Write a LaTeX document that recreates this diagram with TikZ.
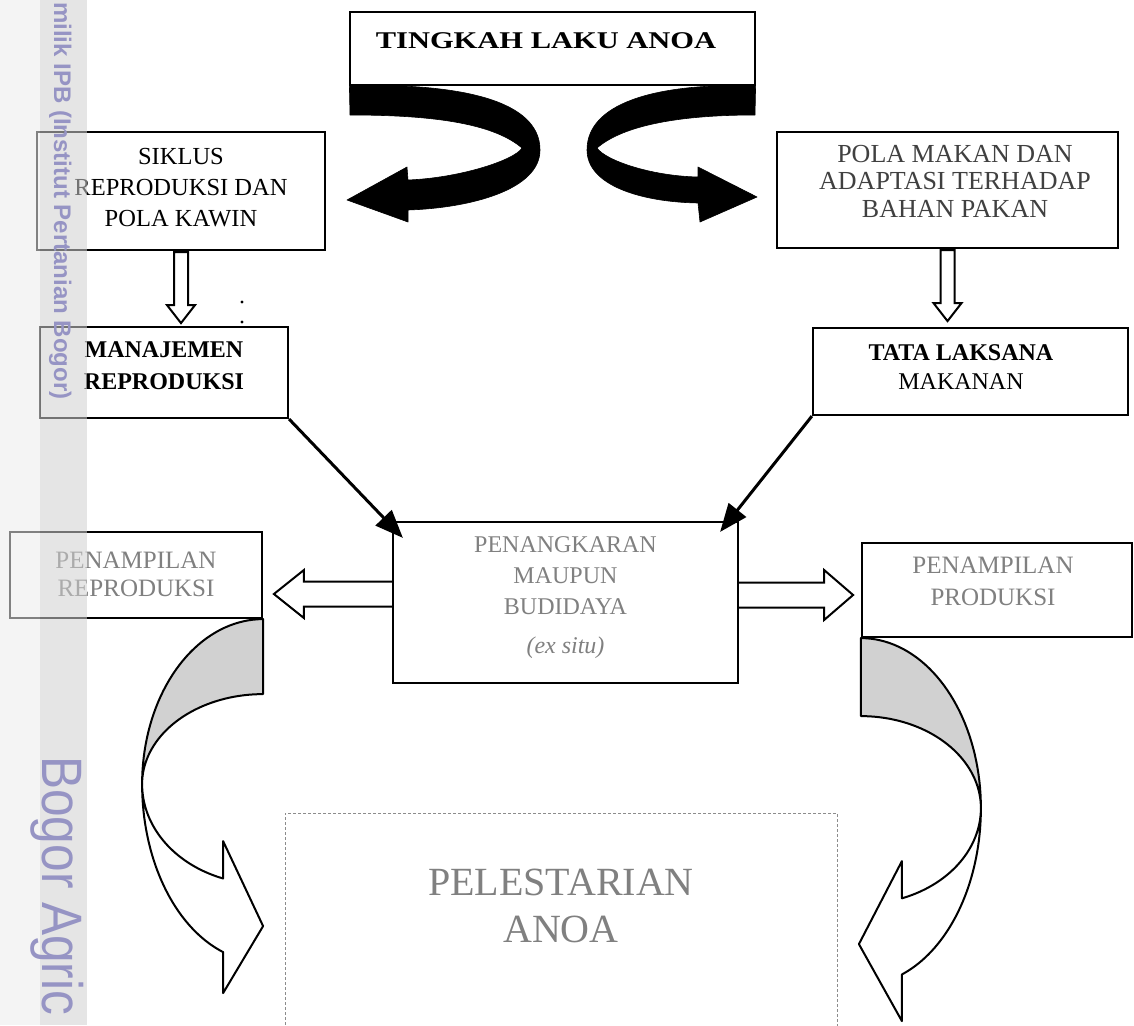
\documentclass[tikz,border=0pt]{standalone}
\usepackage{fontspec}
\usepackage{graphicx}
\setmainfont{Liberation Serif}
\newfontfamily\wmfont{Liberation Sans}
\usetikzlibrary{arrows.meta,calc}
\definecolor{wmtext}{RGB}{150,148,196}
\newcommand\setsz[2]{\fontsize{#1}{#2}\selectfont}
\begin{document}
\begin{tikzpicture}[x=1pt,y=-1pt,
  box/.style={draw=black, line width=2.2pt, inner sep=0pt},
  lbl/.style={align=center, inner sep=0pt},
  faded/.style={text=black!50},
  openarrow/.style={draw=black, line width=2pt, fill=white, line join=miter},
  fatarrow/.style={line width=3pt, -{Triangle[length=28pt,width=22pt]}},
  curvearrow/.style={draw=black, line width=2pt, line join=round},
  curlyarrow/.style={fill=black, draw=black, line width=0.6pt, line join=round},
]
\clip (0,0) rectangle (1134,1025);
\fill[white] (0,0) rectangle (1134,1025);

% ---- boxes
\node[box, line width=1.2pt, minimum width=405pt, minimum height=73pt] (top) at (552.5,48.5) {};
\node[lbl, font=\setsz{24}{28}\bfseries] (topT) at (546,41) {\scalebox{1.27}[1]{TINGKAH LAKU ANOA}};

\node[box, minimum width=288pt, minimum height=118pt] (siklus) at (181,191) {};
\node[lbl, font=\setsz{24.5}{31}] (siklusT) at (181,188) {SIKLUS\\REPRODUKSI DAN\\POLA KAWIN};

\node[box, minimum width=341pt, minimum height=116pt] (pola) at (947.5,190) {};
\node[lbl, font=\setsz{26}{27.5}, text=black!75] (polaT) at (955,181) {POLA MAKAN DAN\\ADAPTASI TERHADAP\\BAHAN PAKAN};

\node[box, minimum width=248pt, minimum height=91pt] (manaj) at (164,372.5) {};
\node[lbl, font=\setsz{24}{32}\bfseries] (manajT) at (164,366) {MANAJEMEN\\REPRODUKSI};

\node[box, minimum width=315pt, minimum height=87pt] (tata) at (970.5,371.5) {};
\node[lbl, font=\setsz{24}{29}] (tataT) at (961,367) {\textbf{TATA LAKSANA}\\MAKANAN};

\node[box, minimum width=345pt, minimum height=161pt] (penang) at (565.5,602.5) {};
\node[lbl, font=\setsz{24}{31}, faded] (penangT) at (565.5,598) {PENANGKARAN\\MAUPUN\\BUDIDAYA\\[8pt]\textit{(ex situ)}};

\node[box, minimum width=252pt, minimum height=86pt] (penrep) at (136,575) {};
\node[lbl, font=\setsz{25}{28}, faded] (penrepT) at (136,574) {PENAMPILAN\\REPRODUKSI};

\node[box, minimum width=270pt, minimum height=94pt] (penprod) at (997,590) {};
\node[lbl, font=\setsz{25}{32}, faded] (penprodT) at (993,581) {PENAMPILAN\\PRODUKSI};

\node[draw=black!45, line width=1pt, dash pattern=on 3pt off 2pt, minimum width=552pt, minimum height=232pt, inner sep=0pt] (pelest) at (561,929) {};
\node[lbl, font=\setsz{40}{47}, faded] (pelestT) at (561,906) {PELESTARIAN\\ANOA};

% ---- curly black arrows from the top box
\filldraw[curlyarrow] (top.south west) .. controls (460,83) and (540,100) .. (540,150)
  .. controls (540,190) and (470,208) .. (408,210)
  -- (408,222) -- (347,200) -- (407,167) -- (408,180)
  .. controls (460,178) and (515,160) .. (522,148)
  .. controls (495,125) and (440,115) .. (350,115) -- cycle;
\filldraw[curlyarrow] (top.south east) .. controls (650,83) and (587,105) .. (587,150)
  .. controls (587,185) and (640,202) .. (698,203)
  -- (700,222) -- (757,197) -- (698,167) -- (698,177)
  .. controls (650,176) and (605,160) .. (597,148)
  .. controls (620,128) and (670,115) .. (755,115) -- cycle;

% ---- open down arrows
\draw[openarrow] ($(siklus.south)+(-7,1)$) -- ++(0,53) -- ++(-7,0) -- ++(14,18) -- ++(14,-18) -- ++(-7,0) -- ++(0,-53) -- cycle;
\draw[openarrow] ($(pola.south)+(-7,1)$) -- ++(0,53) -- ++(-7,0) -- ++(14,18) -- ++(14,-18) -- ++(-7,0) -- ++(0,-53) -- cycle;

% ---- dots
\fill (242,302) circle (1.6);
\fill (242,322) circle (1.6);

% ---- solid arrows into the centre box
\draw[fatarrow] (manaj.south east) -- ($(penang.north west)+(11,17)$);
\draw[fatarrow] (tata.south west) -- ($(penang.north east)+(-19,11)$);

% ---- open horizontal arrows
\draw[openarrow] ($(penang.west)+(0,-21)$) -- ++(-88,0) -- ++(0,-11.5) -- ++(-30,24) -- ++(30,24) -- ++(0,-11.5) -- ++(88,0);
\draw[openarrow] ($(penang.east)+(0,-20)$) -- ++(85,0) -- ++(0,-12.5) -- ++(29,25) -- ++(-29,25) -- ++(0,-12.5) -- ++(-85,0);

% ---- curved block arrows
\begin{scope}[shift={(penrep.south east)}]
  \filldraw[curvearrow, fill=black!18] plot[domain=-90:-180, samples=40, variable=\t] ({121*cos(\t)},{165+165*sin(\t)})
    -- plot[domain=180:270, samples=40, variable=\t] ({121*cos(\t)},{165+90*sin(\t)}) -- cycle;
  \filldraw[curvearrow, fill=white] plot[domain=180:109.3, samples=40, variable=\t] ({121*cos(\t)},{165+178*sin(\t)})
    -- (-40,374) -- (0,307) -- (-40,222)
    -- plot[domain=109.3:180, samples=40, variable=\t] ({121*cos(\t)},{165+100*sin(\t)}) -- cycle;
\end{scope}
\begin{scope}[shift={(penprod.south west)}]
  \filldraw[curvearrow, fill=black!18] plot[domain=-90:0, samples=40, variable=\t] ({120*cos(\t)},{170+170*sin(\t)})
    -- plot[domain=0:-90, samples=40, variable=\t] ({120*cos(\t)},{170+92*sin(\t)}) -- cycle;
  \filldraw[curvearrow, fill=white] plot[domain=0:70, samples=40, variable=\t] ({120*cos(\t)},{170+177*sin(\t)})
    -- (41,383) -- (-2,306) -- (41,223)
    -- plot[domain=70:0, samples=40, variable=\t] ({120*cos(\t)},{170+96*sin(\t)}) -- cycle;
\end{scope}

% ---- watermark strip
\fill[black!8, fill opacity=0.55] (0,0) rectangle (40,1025);
\fill[black!18.5, fill opacity=0.55] (40,0) rectangle (87,1025);
\node[rotate=-90, anchor=base west, inner sep=0pt, text=wmtext, font=\wmfont\bfseries\setsz{24}{24}] (wm1) at (54,2) {milik IPB (Institut Pertanian Bogor)};
\node[rotate=-90, anchor=base west, inner sep=0pt, text=wmtext, font=\wmfont\setsz{57}{57}] (wm2) at (42,756) {\scalebox{0.87}[1]{Bogor Agric}};
\end{tikzpicture}
\end{document}
